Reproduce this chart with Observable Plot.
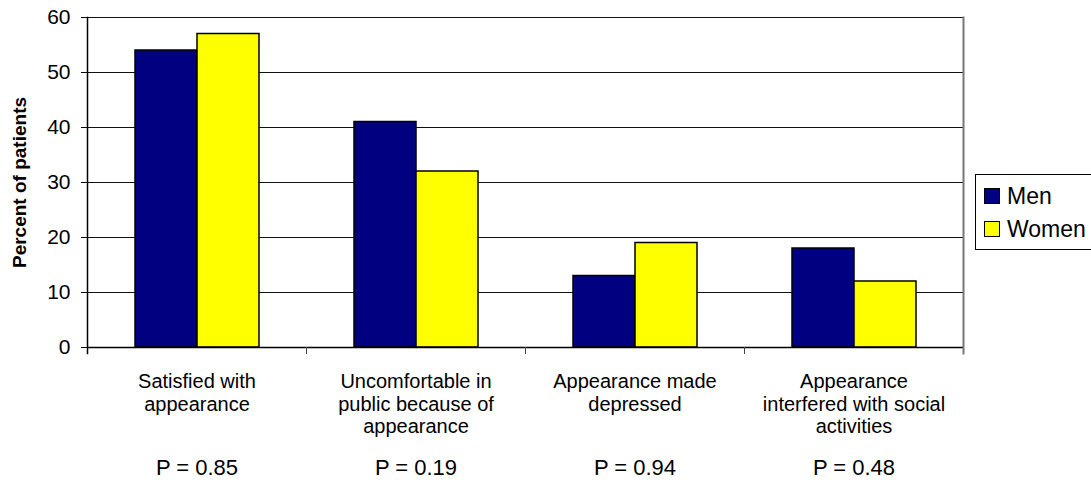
<!DOCTYPE html>
<html><head><meta charset="utf-8">
<script src="https://cdn.jsdelivr.net/npm/d3@7"></script>
<script src="https://cdn.jsdelivr.net/npm/@observablehq/plot@0.6"></script>
<style>
body{margin:0;background:#fff;font-family:"Liberation Sans",Arial,sans-serif;}
#wrap{position:relative;width:1091px;height:485px;overflow:hidden}
#legend{position:absolute;left:975px;top:174px;width:130px;height:74px;border:1px solid #000;background:#fff;font-size:23px;color:#000}
.item{position:absolute;left:8px;height:26px;display:flex;align-items:center;white-space:nowrap}
.sw{width:14px;height:14px;border:1px solid #000;margin-right:7px;flex:none}
</style></head><body><div id="wrap"></div>
<script>
const categories = ["Satisfied with appearance", "Uncomfortable in public because of appearance", "Appearance made depressed", "Appearance interfered with social activities"];
const categoryLines = ["Satisfied with\nappearance", "Uncomfortable in\npublic because of\nappearance", "Appearance made\ndepressed", "Appearance\ninterfered with social\nactivities"];
const men = [54, 41, 13, 18];
const women = [57, 32, 19, 12];
const pValues = ["P = 0.85", "P = 0.19", "P = 0.94", "P = 0.48"];
const series = ["Men", "Women"];
const seriesColors = ["#000080", "#FFFF00"];
const yTicks = [0, 10, 20, 30, 40, 50, 60];
const yLabel = "Percent of patients";

const bars = [];
categories.forEach((c, i) => {
  bars.push({cat: c, sex: series[0], value: men[i]});
  bars.push({cat: c, sex: series[1], value: women[i]});
});
const cats = categories.map((c, i) => ({cat: c, label: categoryLines[i], p: pValues[i]}));

const font = '"Liberation Sans", Arial, sans-serif';
const chart = Plot.plot({
  width: 1091,
  height: 485,
  marginLeft: 86,
  marginRight: 128,
  marginTop: 17,
  marginBottom: 138,
  style: {fontFamily: font, background: "#fff", color: "#000", overflow: "visible"},
  fx: {domain: categories, padding: 0, axis: null},
  x: {domain: series, paddingInner: 0, paddingOuter: 0.74, axis: null},
  y: {domain: [0, 60], axis: null},
  color: {domain: series, range: seriesColors},
  marks: [
    Plot.gridY(yTicks, {stroke: "#111", strokeOpacity: 1, strokeWidth: 1}),
    Plot.barY(bars, {fx: "cat", x: "sex", y: "value", fill: "sex", stroke: "#000", strokeWidth: 1.5}),
    Plot.ruleY([0], {stroke: "#000", strokeWidth: 1.5}),
    Plot.frame({anchor: "left", insetTop: 330, insetBottom: -6, stroke: "#444", strokeWidth: 1}),
    Plot.frame({anchor: "right", facet: "super", insetBottom: -6, stroke: "#777", strokeWidth: 2}),
    Plot.frame({anchor: "left", facet: "super", insetBottom: -6, stroke: "#000", strokeWidth: 1.5}),
    Plot.axisY({ticks: yTicks, tickSize: 6, tickPadding: 11, fontSize: 21, label: null, stroke: "#000"}),
    Plot.text([yLabel], {frameAnchor: "left", facet: "super", rotate: -90, dx: -68, textAnchor: "middle", lineAnchor: "middle", fontSize: 19, fontWeight: "bold", fill: "#000"}),
    Plot.text(cats, {fx: "cat", text: "label", frameAnchor: "bottom", lineAnchor: "top", dy: 25, fontSize: 20, lineHeight: 1.12, fill: "#000"}),
    Plot.text(cats, {fx: "cat", text: "p", frameAnchor: "bottom", lineAnchor: "bottom", dy: 127, fontSize: 22, fill: "#000"})
  ]
});
const wrap = document.getElementById("wrap");
wrap.appendChild(chart);

const legend = document.createElement("div");
legend.id = "legend";
series.forEach((s, i) => {
  const item = document.createElement("div");
  item.className = "item";
  item.style.top = (8 + i * 33) + "px";
  const sw = document.createElement("span");
  sw.className = "sw";
  sw.style.background = seriesColors[i];
  const t = document.createElement("span");
  t.textContent = s;
  item.appendChild(sw);
  item.appendChild(t);
  legend.appendChild(item);
});
wrap.appendChild(legend);
</script></body></html>
